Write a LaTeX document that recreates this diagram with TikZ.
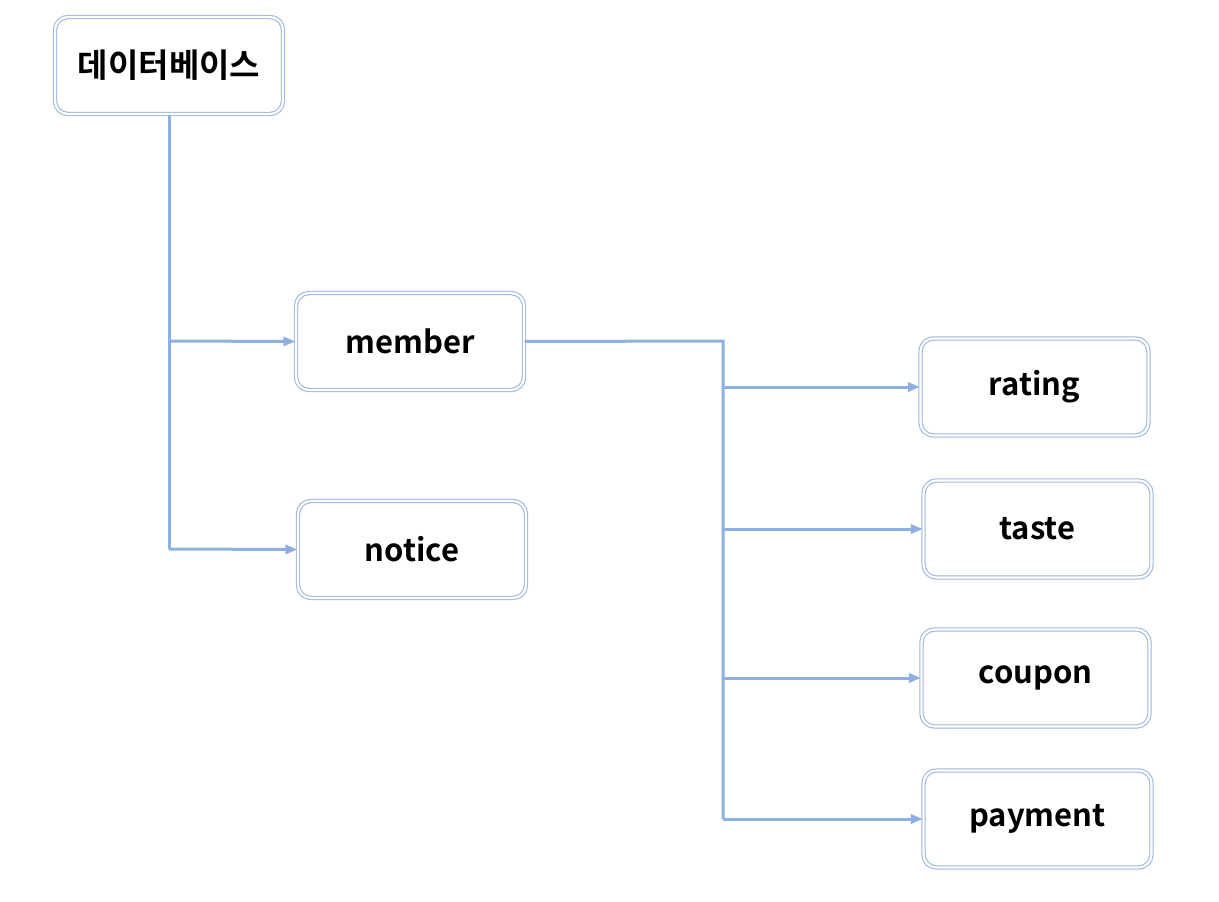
\documentclass[tikz,border=0pt]{standalone}
\usepackage{fontspec}
\setmainfont{Noto Sans CJK KR}[BoldFont={* Bold}]
\usetikzlibrary{arrows.meta}
\definecolor{boxblue}{HTML}{9DB8DE}
\definecolor{lineblue}{HTML}{8DB0E0}
\tikzset{
  tbl/.style={draw=boxblue, double=white, double distance=2.2pt, line width=1.1pt,
    rounded corners=13pt, minimum width=228pt, minimum height=97pt, inner sep=0pt,
    font=\fontsize{31}{36}\selectfont\bfseries},
  korean/.style={font=\fontsize{33}{38}\selectfont\bfseries},
  conn/.style={draw=lineblue, line width=3pt},
  arr/.style={conn, -{Triangle[length=12pt,width=9pt]}}
}
\begin{document}
\begin{tikzpicture}[x=1pt,y=-1pt]
\useasboundingbox (0,0) rectangle (1219,902);
\node[tbl,korean] (db) at (169,65.5) {데이터베이스};
\node[tbl] (member) at (410,341.5) {member};
\node[tbl] (notice) at (412,549.5) {notice};
\node[tbl] (rating) at (1034.5,387) {rating};
\node[tbl] (taste) at (1037.5,529) {taste};
\node[tbl] (coupon) at (1035.5,678) {coupon};
\node[tbl] (payment) at (1037.5,819) {payment};
\coordinate (j1) at (169,341);
\coordinate (j2) at (169,549);
\coordinate (k0) at (723,341);
\coordinate (k1) at (723,387);
\coordinate (k2) at (723,529);
\coordinate (k3) at (723,678);
\coordinate (k4) at (723,819);
\draw[conn] (db.south) -- (j2);
\draw[arr] (j1) -- (member.west);
\draw[arr] (j2) -- (notice.west);
\draw[conn] (member.east) -- (k0) -- (k4);
\draw[arr] (k1) -- (rating.west);
\draw[arr] (k2) -- (taste.west);
\draw[arr] (k3) -- (coupon.west);
\draw[arr] (k4) -- (payment.west);
\end{tikzpicture}
\end{document}
